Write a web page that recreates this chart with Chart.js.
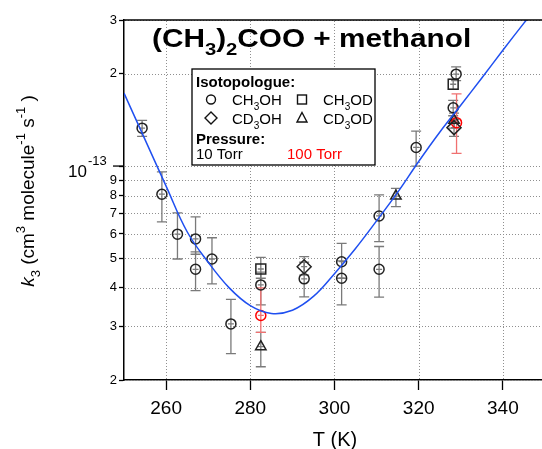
<!DOCTYPE html>
<html>
<head>
<meta charset="utf-8">
<script src="https://cdn.jsdelivr.net/npm/chart.js@4.4.0/dist/chart.umd.min.js"></script>
<style>
  html, body { margin: 0; padding: 0; background: #fff; overflow: hidden; }
</style>
</head>
<body>
<canvas id="chart" width="542" height="449"></canvas>
<script>
// all k values below are in units of 1e-14 cm3 molecule-1 s-1
const xTicks = [260, 280, 300, 320, 340];
const yTicks = [2, 3, 4, 5, 6, 7, 8, 9, 10, 20, 30];
const yTickLabels = ['2', '3', '4', '5', '6', '7', '8', '9', '', '2', '3'];

// fitted curve (blue line)
const fitT = [250, 255, 260, 265, 270, 275, 280, 285, 290, 295, 300, 305, 310, 315, 320, 325, 330, 335, 340, 345, 346];
const fitK = [17.3, 12.2, 8.6, 6.1, 4.85, 4.0, 3.5, 3.3, 3.38, 3.75, 4.45, 5.38, 6.62, 8.2, 10.35, 12.9, 15.8, 19.4, 23.9, 29.3, 30.5];

// CH3OH, 10 Torr (circles)
const ch3ohT  = [254.3, 259.0, 262.7, 267.0, 267.0, 270.9, 275.4, 282.5, 292.8, 301.7, 301.7, 310.6, 310.6, 319.4, 328.2, 328.9];
const ch3ohK  = [13.3, 8.09, 5.99, 5.78, 4.60, 4.97, 3.05, 4.09, 4.28, 4.87, 4.30, 6.87, 4.60, 11.5, 15.5, 19.96];
const ch3ohLo = [12.5, 6.57, 4.97, 5.15, 3.92, 4.12, 2.44, 3.52, 3.74, 4.30, 3.52, 5.66, 3.73, 10.0, 14.6, 19.0];
const ch3ohHi = [14.1, 9.57, 7.03, 6.82, 5.24, 5.83, 3.67, 4.50, 4.85, 5.59, 4.90, 8.05, 5.46, 13.0, 16.4, 21.1];

// CH3OD, 10 Torr (squares)
const ch3odT  = [282.5, 328.2];
const ch3odK  = [4.61, 18.5];
const ch3odLo = [4.30, 17.8];
const ch3odHi = [5.03, 19.2];

// CD3OH, 10 Torr (diamonds)
const cd3ohT  = [292.8, 328.4];
const cd3ohK  = [4.69, 13.35];
const cd3ohLo = [4.40, 12.5];
const cd3ohHi = [5.06, 14.2];

// CD3OD, 10 Torr (triangles)
const cd3odT  = [282.5, 314.6, 328.4];
const cd3odK  = [2.57, 7.98, 14.1];
const cd3odLo = [2.21, 7.37, 13.3];
const cd3odHi = [2.86, 8.46, 14.9];

// CH3OH, 100 Torr (red circles)
const hpT  = [282.5, 329.0];
const hpK  = [3.25, 13.86];
const hpLo = [2.86, 11.0];
const hpHi = [4.0, 17.2];

const E = 1e-14;
const FONT = '"Liberation Sans", Arial, sans-serif';
const pts = (T, K) => T.map((t, i) => ({ x: t, y: K[i] * E }));

const series = [
  { T: ch3ohT, K: ch3ohK, lo: ch3ohLo, hi: ch3ohHi, style: 'circle', r: 5, color: '#222', eb: '#7a7a7a' },
  { T: ch3odT, K: ch3odK, lo: ch3odLo, hi: ch3odHi, style: 'rect', r: 7, color: '#222', eb: '#7a7a7a' },
  { T: cd3ohT, K: cd3ohK, lo: cd3ohLo, hi: cd3ohHi, style: 'rectRot', r: 7, color: '#222', eb: '#7a7a7a' },
  { T: cd3odT, K: cd3odK, lo: cd3odLo, hi: cd3odHi, style: 'triangle', r: 6, color: '#222', eb: '#7a7a7a' },
  { T: hpT, K: hpK, lo: hpLo, hi: hpHi, style: 'circle', r: 5, color: '#ff0000', eb: '#f07070' }
];

// text with sub/superscripts, returns width
function rich(ctx, x, y, parts, size, weight, color, draw = true) {
  let cx = x;
  for (const [t, k] of parts) {
    const small = k === 'sub' || k === 'sup';
    const fs = small ? Math.round(size * 0.68) : size;
    const style = k === 'i' ? 'italic ' : '';
    ctx.font = style + weight + ' ' + fs + 'px ' + FONT;
    const dy = k === 'sub' ? size * 0.3 : (k === 'sup' ? -size * 0.45 : 0);
    if (draw) {
      ctx.fillStyle = color;
      ctx.fillText(t, cx, y + dy);
    }
    cx += ctx.measureText(t).width;
  }
  return cx - x;
}

const decor = {
  id: 'decor',
  beforeDatasetsDraw(chart) {
    const ctx = chart.ctx, ca = chart.chartArea, xs = chart.scales.x, ys = chart.scales.y;
    ctx.save();

    // dotted grid, one dot every 3 px
    ctx.fillStyle = '#8f8f8f';
    yTicks.forEach(v => {
      const y = Math.round(ys.getPixelForValue(v * E));
      for (let x = Math.ceil(ca.left) + 1; x < ca.right; x += 3) ctx.fillRect(x, y, 1, 1);
    });
    xTicks.forEach(v => {
      const x = Math.round(xs.getPixelForValue(v));
      for (let y = Math.ceil(ca.top) + 1; y < ca.bottom; y += 3) ctx.fillRect(x, y, 1, 1);
    });

    // error bars
    ctx.lineWidth = 1.3;
    series.forEach(s => {
      ctx.strokeStyle = s.eb;
      s.T.forEach((t, i) => {
        const x = xs.getPixelForValue(t);
        const y = ys.getPixelForValue(s.K[i] * E);
        const yl = ys.getPixelForValue(s.lo[i] * E);
        const yh = ys.getPixelForValue(s.hi[i] * E);
        ctx.beginPath();
        ctx.moveTo(x, yl); ctx.lineTo(x, yh);
        ctx.moveTo(x - 5, yl); ctx.lineTo(x + 5, yl);
        ctx.moveTo(x - 5, yh); ctx.lineTo(x + 5, yh);
        ctx.moveTo(x - 3, y); ctx.lineTo(x + 3, y);
        ctx.stroke();
      });
    });
    ctx.restore();
  },
  afterDraw(chart) {
    const ctx = chart.ctx, ca = chart.chartArea, ys = chart.scales.y;
    ctx.save();
    ctx.textAlign = 'left';
    ctx.textBaseline = 'alphabetic';

    // top frame line
    ctx.strokeStyle = '#000';
    ctx.lineWidth = 1.5;
    ctx.beginPath();
    ctx.moveTo(ca.left, ca.top); ctx.lineTo(ca.right, ca.top);
    ctx.stroke();

    // decade tick and its label
    const yd = ys.getPixelForValue(1e-13);
    ctx.lineWidth = 1.3;
    ctx.beginPath();
    ctx.moveTo(ca.left - 11, yd); ctx.lineTo(ca.left, yd);
    ctx.stroke();
    ctx.fillStyle = '#000';
    ctx.font = '17px ' + FONT;
    ctx.fillText('10', 68, yd + 11);
    ctx.font = '13px ' + FONT;
    ctx.fillText('-13', 88, yd - 1);

    // title (drawn a little wide, like the original)
    ctx.save();
    ctx.translate(152, 47);
    ctx.scale(1.19, 1);
    rich(ctx, 0, 0, [['(CH', ''], ['3', 'sub'], [')', ''], ['2', 'sub'], ['COO + methanol', '']], 25, 'bold', '#000');
    ctx.restore();

    // x axis title
    ctx.font = '20px ' + FONT;
    ctx.fillStyle = '#000';
    ctx.textAlign = 'center';
    ctx.fillText('T (K)', 335, 446);
    ctx.textAlign = 'left';

    // y axis title
    const yParts = [['k', 'i'], ['3', 'sub'], [' (cm', ''], ['3', 'sup'], [' molecule', ''], ['-1', 'sup'], [' s', ''], ['-1', 'sup'], [' )', '']];
    const w = rich(ctx, 0, 0, yParts, 19, 'normal', '#000', false);
    ctx.save();
    ctx.translate(34, 191);
    ctx.rotate(-Math.PI / 2);
    rich(ctx, -w / 2, 0, yParts, 19, 'normal', '#000');
    ctx.restore();

    // legend box
    ctx.fillStyle = '#fff';
    ctx.fillRect(192, 69, 183, 96);
    ctx.strokeStyle = '#000';
    ctx.lineWidth = 1.3;
    ctx.strokeRect(192, 69, 183, 96);

    ctx.fillStyle = '#000';
    ctx.font = 'bold 15px ' + FONT;
    ctx.fillText('Isotopologue:', 196, 87);
    ctx.fillText('Pressure:', 196, 143.5);
    ctx.font = '15px ' + FONT;
    ctx.fillText('10 Torr', 196, 159);
    ctx.fillStyle = '#ff0000';
    ctx.fillText('100 Torr', 287, 159);

    rich(ctx, 232, 105, [['CH', ''], ['3', 'sub'], ['OH', '']], 15, 'normal', '#000');
    rich(ctx, 323, 105, [['CH', ''], ['3', 'sub'], ['OD', '']], 15, 'normal', '#000');
    rich(ctx, 232, 124, [['CD', ''], ['3', 'sub'], ['OH', '']], 15, 'normal', '#000');
    rich(ctx, 323, 124, [['CD', ''], ['3', 'sub'], ['OD', '']], 15, 'normal', '#000');

    ctx.strokeStyle = '#111';
    ctx.lineWidth = 1.4;
    ctx.beginPath(); ctx.arc(211, 99.5, 4.5, 0, Math.PI * 2); ctx.stroke();
    ctx.strokeRect(297.5, 95, 9, 9);
    ctx.beginPath();
    ctx.moveTo(211, 112); ctx.lineTo(217, 118); ctx.lineTo(211, 124); ctx.lineTo(205, 118); ctx.closePath();
    ctx.stroke();
    ctx.beginPath();
    ctx.moveTo(302, 112.5); ctx.lineTo(307, 122); ctx.lineTo(297, 122); ctx.closePath();
    ctx.stroke();

    ctx.restore();
  }
};

const markerSets = series.map(s => ({
  type: 'scatter',
  data: pts(s.T, s.K),
  pointStyle: s.style,
  pointRadius: s.r,
  pointHoverRadius: s.r,
  pointBorderColor: s.color,
  pointBackgroundColor: 'rgba(0,0,0,0)',
  pointBorderWidth: 1.5,
  showLine: false,
  clip: false
}));

new Chart(document.getElementById('chart'), {
  type: 'scatter',
  data: {
    datasets: [
      {
        type: 'line',
        data: pts(fitT, fitK),
        borderColor: '#1f4ff0',
        borderWidth: 1.5,
        pointRadius: 0,
        tension: 0.4,
        fill: false
      },
      ...markerSets
    ]
  },
  options: {
    responsive: false,
    devicePixelRatio: 1,
    animation: false,
    layout: { autoPadding: false, padding: { top: 20, left: 0, right: 0, bottom: 0 } },
    plugins: { legend: { display: false }, tooltip: { enabled: false } },
    scales: {
      x: {
        type: 'linear',
        min: 250,
        max: 349.3,
        afterBuildTicks: s => { s.ticks = xTicks.map(v => ({ value: v })); },
        afterFit: s => { s.height = 69; s.paddingLeft = 0; s.paddingRight = 0; },
        ticks: { color: '#000', font: { family: FONT, size: 19 }, padding: 7, maxRotation: 0 },
        grid: { drawOnChartArea: false, tickLength: 10, tickColor: '#000', tickWidth: 1.3 },
        border: { color: '#000', width: 1.5 }
      },
      y: {
        type: 'logarithmic',
        min: 2e-14,
        max: 3e-13,
        afterBuildTicks: s => { s.ticks = yTicks.map(v => ({ value: v * E })); },
        afterFit: s => { s.width = 124; s.paddingTop = 0; s.paddingBottom = 0; },
        ticks: {
          color: '#000',
          font: { family: FONT, size: 13 },
          padding: 2,
          callback: (v, i) => yTickLabels[i]
        },
        grid: { drawOnChartArea: false, tickLength: 5, tickColor: '#000', tickWidth: 1.3 },
        border: { color: '#000', width: 1.5 }
      }
    }
  },
  plugins: [decor]
});
</script>
</body>
</html>
